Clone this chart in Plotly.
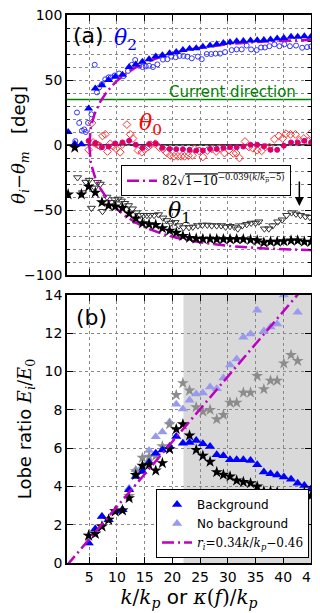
import numpy as np
import plotly.graph_objects as go

# ---- data ----
# (a) background run: lobe directions on the k/kp grid
k_bg_a = [1.2, 2.4, 3.6, 4.9, 6.1, 7.3, 8.5, 9.7, 11.0, 12.2, 13.4, 14.6, 15.8, 17.0, 18.2, 19.5,
          20.7, 21.9, 23.1, 24.3, 25.5, 26.8, 28.0, 29.2, 30.4, 31.6, 32.8, 34.1, 35.3, 36.5,
          37.7, 38.9, 40.1, 41.4, 42.6, 43.8, 45.0]
theta2_bg = [10, 1, 0.5, 28, 43.5, 46, 50, 52.5, 54, 60, 62, 64, 66, 68, 69, 70.5,
             71.5, 73, 74, 74.5, 75.5, 76.5, 77.5, 78.4, 79, 79.8, 80, 80.3, 80.6, 80.8,
             81.2, 82, 82.3, 83.3, 83.3, 83.6, 83.2]
theta1_bg = [-38, -2, -38, -32, -36.6, -44, -46.5, -47.3, -48.5, -52.7, -56.5, -60.2, -61, -61.4, -64, -65.9,
             -67.5, -70, -71.4, -72, -72.3, -72.3, -72.5, -72.5, -72.5, -72.5, -72.5, -73, -73.5, -75,
             -74.4, -74.4, -74, -73.5, -73.5, -74.4, -74.5]
k_bg_0 = [4.9, 6.1, 7.3, 8.5, 9.7, 11.0, 12.2, 13.4, 14.6, 15.8, 17.0, 18.2, 19.5, 20.7, 21.9, 23.1,
          24.3, 25.5, 26.8, 28.0, 29.2, 30.4, 31.6, 32.8, 34.1, 35.3, 36.5, 37.7, 38.9, 40.1,
          41.4, 42.6, 43.8, 45.0]
theta0_bg = [3.2, 1.5, -1.7, -1.2, 1.2, 2, 3.2, 0.2, -2.2, 0.7, 1.2, -2.2, -3, -3.2, -3.2, -3.7,
             -4.2, -4.2, -3, -3, -2.2, -1.7, -1.7, -1.2, 0.2, 0.2, -1, -3.7, -3.7, -0.5,
             2, 2, 3.2, 2]

# (a) no-background run
k_nb_2 = [2.5, 2.8, 3.2, 3.7, 4.1, 4.4, 4.8, 5.4, 6.0, 6.4, 6.8, 7.3, 7.9, 8.5, 8.9, 9.6, 10.4, 11.2,
          12.0, 12.7, 13.3, 14.0, 14.6, 15.2, 15.8, 16.5, 17.3, 18.3, 19.1, 19.8, 20.6, 21.3, 22.0,
          22.7, 23.5, 24.6, 25.3, 26.2, 27.0, 27.8, 28.6, 29.5, 30.7, 31.6, 32.5, 33.4, 34.2, 35.2,
          36.0, 36.7, 37.5, 38.4, 39.3, 40.2, 41.2, 42.3, 43.4, 44.3, 45.0]
theta2_nb = [3, 25, 17, 11, 12, 10, 17, 23.6, 61.7, 40.5, 44.3, 46.8, 50.5, 52, 52, 53.5, 55, 53,
             57, 61.7, 65.4, 61, 60, 60.5, 61, 60, 62, 65.7, 66, 68, 67.5, 68.5, 68.5,
             68, 66.7, 68, 66, 70, 70, 70.3, 70.3, 71.5, 73, 73.5, 73.5, 76.5, 73.5, 73,
             75, 75, 76, 77.5, 76, 77.5, 76, 76.5, 74.8, 75.3, 75.8]
k_nb_0 = [4.9, 5.5, 5.7, 6.2, 6.6, 7.0, 7.4, 7.9, 8.3, 8.8, 9.3, 9.9, 10.6, 11.0, 11.8, 12.4, 12.9,
          13.8, 14.5, 15.0, 15.6, 16.1, 16.9, 17.7, 18.3, 19.0, 19.6, 20.3, 21.0, 21.6, 22.2, 22.9,
          23.6, 24.0, 24.8, 25.5, 26.3, 27.1, 27.9, 28.6, 29.4, 30.2, 31.0, 31.5, 32.1, 33.1, 33.8,
          34.5, 35.3, 36.1, 36.8, 37.5, 38.4, 39.2, 39.9, 40.5, 41.3, 42.2, 42.9, 43.7, 44.5, 44.9]
theta0_nb = [-3.7, 17, 2, 1, 0, -1, 7, 8.2, -5, 1, -1, -3, -5.5, 0.5, 15.7, 8.2, 5,
             -4.2, -5.5, -3.5, -1.5, 0.2, 1, -2, -3, -6, -8, -8.7, -8.7, -8.7, -8.7, -8.3,
             -8, -3, -4.5, -9.2, -4.3, -3, -5, -2.5, -6.2, -4, -6.5, -6.2, -10, 2.7, -1.5,
             -2.5, -4, -4.5, -1.5, -1.5, 4.5, 7, 5, 8.7, 8.2, 8.2, 3.7, 5, 3, 8.7]
k_nb_1 = [2.9, 3.8, 4.4, 5.0, 5.4, 6.0, 6.5, 7.0, 7.4, 8.2, 9.0, 9.6, 10.2, 10.8, 11.4, 12.1, 12.8,
          13.5, 14.2, 14.8, 15.4, 16.0, 16.7, 17.5, 18.3, 19.0, 19.7, 20.5, 21.2, 22.0, 23.0, 23.7,
          24.6, 25.4, 26.3, 27.1, 28.0, 28.8, 29.6, 30.4, 31.2, 31.8, 32.6, 33.4, 34.2, 35.0, 35.6,
          36.6, 37.4, 38.1, 39.0, 39.8, 40.6, 41.5, 42.3, 43.1, 44.0, 44.8]
theta1_nb = [-25, -36.6, -28.5, -27, -48.5, -33, -28.6, -30, -51, -40, -44, -42, -41.5, -43, -44.8, -46.5, -49,
             -52, -54, -54, -54, -54, -54, -53.5, -56, -58, -60, -59.5, -62, -63.5, -63.4, -63,
             -62, -61.5, -61.5, -62, -62, -62, -63, -62.5, -63, -64.4, -62, -61, -60, -60, -59,
             -64.4, -64.4, -62, -59, -57.5, -54, -52, -53, -54, -55, -55.5]

# (b) lobe ratio
k_b = [4.9, 6.1, 7.3, 8.5, 9.7, 11.0, 12.2, 13.4, 14.6, 15.8, 17.0, 18.2, 19.5, 20.7, 21.9, 23.1,
       24.3, 25.5, 26.8, 28.0, 29.2, 30.4, 31.6, 32.8, 34.1, 35.3, 36.5, 37.7, 38.9, 40.1,
       41.4, 42.6, 43.8, 45.0]
ratio2_bg = [1.04, 1.77, 2.43, 2.26, 2.7, 2.78, 3.83, 4.52, 4.78, 5.27, 5.74, 5.9, 6.09, 6.61, 6.26, 6.3,
             6.4, 6.23, 6.09, 5.65, 5.6, 5.4, 5.4, 5.4, 5.36, 5.13, 4.75, 4.66, 4.6, 4.49,
             4.38, 4.17, 4.05, 3.86]
ratio1_bg = [1.43, 1.53, 1.91, 2.26, 2.7, 2.75, 3.39, 4.6, 5.08, 5.13, 4.83, 5.22, 5.95, 6.99, 7.25, 6.66,
             5.91, 5.6, 5.29, 4.75, 4.61, 4.52, 4.31, 4.23, 4.17, 4.0, 3.74, 3.74, 3.7, 3.51,
             3.48, 3.48, 3.69, 3.51]
ratio2_nb = [1.04, 1.77, 2.43, 2.26, 2.7, 2.78, 3.9, 4.87, 5.04, 5.88, 6.6, 6.84, 7.37, 8.3, 8.05, 8.5,
             8.83, 8.88, 9.2, 9.1, 9.67, 10.34, 10.66, 11.8, 11.96, 13.2, 12.12, 12.33, 12.48, 14.0,
             None, 13.1, None, None]
ratio1_nb = [1.43, 1.53, 1.91, 2.26, 2.7, 2.75, 3.5, 4.8, 5.5, 5.55, 5.6, 6.1, 7.25, 8.78, 9.4, 9.01,
             8.14, 7.91, 8.0, 7.51, 7.74, 8.38, 8.38, 8.9, 8.9, 9.77, 9.08, 9.53, 9.53, 10.43,
             10.87, 10.56, None, None]

# fits
kk = np.linspace(5, 45, 400)
fit_a = 82 * np.sqrt(1 - 10 ** (-0.039 * (kk - 5)))
kl = np.array([1, 45])
fit_b = 0.34 * kl - 0.46

MAG = '#bf00bf'
DASH = '12px,4px,2px,4px'
SERIF = "font-family:'DejaVu Serif'"

fig = go.Figure()

# ---- panel (a) ----
fig.add_trace(go.Scatter(x=k_nb_2, y=theta2_nb, mode='markers', showlegend=False,
                         marker=dict(symbol='circle-open', size=5, color='#3333ff', line=dict(width=1))))
fig.add_trace(go.Scatter(x=k_nb_0, y=theta0_nb, mode='markers', showlegend=False,
                         marker=dict(symbol='diamond-open', size=6, color='#ff3333', line=dict(width=1))))
fig.add_trace(go.Scatter(x=k_nb_1, y=theta1_nb, mode='markers', showlegend=False,
                         marker=dict(symbol='triangle-down-open', size=7, color='#333333', line=dict(width=1))))
fig.add_trace(go.Scatter(x=kk, y=fit_a, mode='lines', legend='legend',
                         name="82√<span style='text-decoration:overline'>1−10<sup>−0.039(<i>k</i>/<i>k<sub>p</sub></i>−5)</sup></span>",
                         line=dict(color=MAG, width=2.5, dash=DASH)))
fig.add_trace(go.Scatter(x=kk, y=-fit_a, mode='lines', showlegend=False,
                         line=dict(color=MAG, width=2.5, dash=DASH)))
fig.add_trace(go.Scatter(x=k_bg_a, y=theta2_bg, mode='markers', showlegend=False,
                         marker=dict(symbol='triangle-up', size=8, color='#0000ff')))
fig.add_trace(go.Scatter(x=k_bg_0, y=theta0_bg, mode='markers', showlegend=False,
                         marker=dict(symbol='circle', size=5, color='#ee0033', line=dict(color=MAG, width=1))))
fig.add_trace(go.Scatter(x=k_bg_a, y=theta1_bg, mode='markers', showlegend=False,
                         marker=dict(symbol='star', size=9, color='black')))

# ---- panel (b) ----
fig.add_trace(go.Scatter(x=k_b, y=ratio2_nb, xaxis='x2', yaxis='y2', mode='markers',
                         name='No background', legend='legend2', legendrank=2,
                         marker=dict(symbol='triangle-up', size=9, color='#9999ee')))
fig.add_trace(go.Scatter(x=k_b, y=ratio1_nb, xaxis='x2', yaxis='y2', mode='markers', showlegend=False,
                         marker=dict(symbol='star', size=9, color='#8c8c8c')))
fig.add_trace(go.Scatter(x=k_b, y=ratio2_bg, xaxis='x2', yaxis='y2', mode='markers',
                         name='Background', legend='legend2', legendrank=1,
                         marker=dict(symbol='triangle-up', size=9, color='#0000ff')))
fig.add_trace(go.Scatter(x=k_b, y=ratio1_bg, xaxis='x2', yaxis='y2', mode='markers', showlegend=False,
                         marker=dict(symbol='star', size=9, color='black')))
fig.add_trace(go.Scatter(x=kl, y=fit_b, xaxis='x2', yaxis='y2', mode='lines', legend='legend2',
                         legendrank=3,
                         name=f"<span style=\"{SERIF}\"><i>r<sub>i</sub></i>=0.34<i>k</i>/<i>k<sub>p</sub></i>−0.46</span>",
                         line=dict(color=MAG, width=2.5, dash=DASH)))

grid = dict(showgrid=True, gridcolor='#888888', griddash='dot', gridwidth=1,
            showline=True, linecolor='black', linewidth=1.5, mirror='ticks',
            ticks='inside', ticklen=6, tickcolor='black', zeroline=False,
            ticklabeloverflow='allow',
            tickfont=dict(family='DejaVu Sans', size=14, color='black'))

# the page puts the figure 8px in from the corner, so the canvas is 312x605
fig.update_layout(
    width=312, height=605,
    margin=dict(l=59, r=9, t=7, b=50, autoexpand=False),
    plot_bgcolor='white', paper_bgcolor='white',
    font=dict(family='DejaVu Sans', color='black'),
    xaxis=dict(grid, domain=[0, 1], anchor='y', range=[1, 45], tickvals=[5, 10, 15, 20, 25, 30, 35, 40, 45],
               showticklabels=False, matches='x2'),
    yaxis=dict(grid, domain=[0.5255, 1], anchor='x', range=[-100, 100], tickvals=[-100, -50, 0, 50, 100],
               minor=dict(dtick=10, tick0=0, showgrid=True, gridcolor='#888888', griddash='dot',
                          ticks='inside', ticklen=3, tickcolor='black'),
               title=dict(text=f"<span style=\"{SERIF}\"><i>θ<sub>i</sub></i>−<i>θ<sub>m</sub></i></span>   [deg]",
                          font=dict(size=18), standoff=4)),
    xaxis2=dict(grid, domain=[0, 1], anchor='y2', range=[1, 45], tickvals=[5, 10, 15, 20, 25, 30, 35, 40, 45],
                title=dict(text=f"<span style=\"{SERIF}\"><i>k</i>/<i>k<sub>p</sub></i></span> or "
                                f"<span style=\"{SERIF}\"><i>κ</i>(<i>f</i>)/<i>k<sub>p</sub></i></span>",
                           font=dict(size=20), standoff=2)),
    yaxis2=dict(grid, domain=[0, 0.489], anchor='x2', range=[0, 14], dtick=2,
                title=dict(text=f"Lobe ratio <span style=\"{SERIF}\"><i>E<sub>i</sub></i>/<i>E</i><sub>0</sub></span>",
                           font=dict(size=18), standoff=8)),
    legend=dict(x=0.918, y=0.726, xanchor='right', yanchor='top', bgcolor='white',
                bordercolor='black', borderwidth=1, itemwidth=30,
                font=dict(size=12, family='DejaVu Serif')),
    legend2=dict(x=0.992, y=0.009, xanchor='right', yanchor='bottom', bgcolor='white',
                 bordercolor='black', borderwidth=1, font=dict(size=12), tracegroupgap=0,
                 itemwidth=30, traceorder='normal'),
    shapes=[
        dict(type='rect', xref='x2', yref='y2', x0=22, x1=45, y0=0, y1=14,
             fillcolor='#d9d9d9', line=dict(width=0), layer='below'),
        dict(type='line', xref='x domain', yref='y', x0=0, x1=1, y0=35, y1=35,
             line=dict(color='green', width=1.5), layer='below'),
        dict(type='line', xref='x domain', yref='y', x0=0, x1=1, y0=0, y1=0,
             line=dict(color='#333333', width=1.8), layer='below'),
    ],
    annotations=[
        dict(text='(a)', x=4.8, y=84, xref='x', yref='y', showarrow=False, font=dict(size=22)),
        dict(text='(b)', x=5.5, y=12.85, xref='x2', yref='y2', showarrow=False, font=dict(size=22)),
        dict(text='<i>θ</i><sub>2</sub>', x=11.6, y=81, xref='x', yref='y', showarrow=False,
             font=dict(size=22, color='#0000ff', family='DejaVu Serif')),
        dict(text='<i>θ</i><sub>0</sub>', x=16, y=16, xref='x', yref='y', showarrow=False,
             font=dict(size=22, color='#ff0000', family='DejaVu Serif')),
        dict(text='<i>θ</i><sub>1</sub>', x=21.2, y=-52, xref='x', yref='y', showarrow=False,
             font=dict(size=22, color='black', family='DejaVu Serif')),
        dict(text='Current direction', x=30.8, y=41, xref='x', yref='y', showarrow=False,
             font=dict(size=15, color='green')),
        dict(text='', x=42.9, y=-47, ax=42.9, ay=-27, xref='x', yref='y', axref='x', ayref='y',
             showarrow=True, arrowhead=2, arrowsize=1.2, arrowwidth=1.5, arrowcolor='black'),
    ],
)

fig.write_html("out.html")
